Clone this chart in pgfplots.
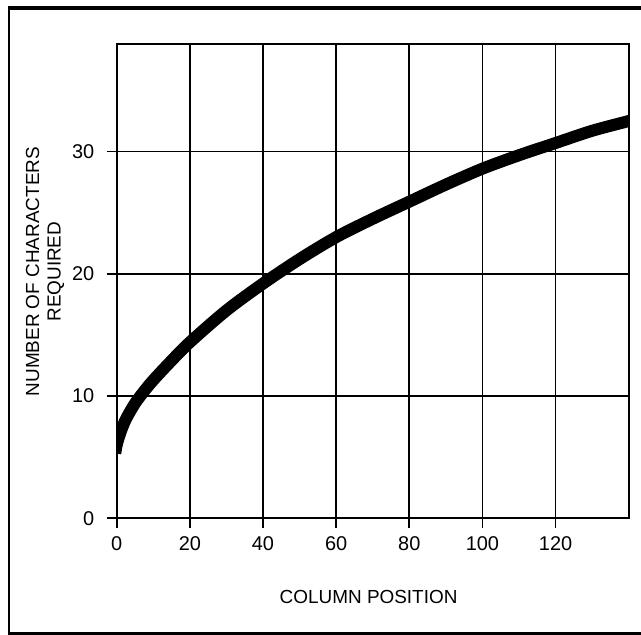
\documentclass[border=0pt]{standalone}
\usepackage{pgfplots}
\pgfplotsset{compat=1.18}
\usepackage{fontspec}
\setmainfont{Liberation Sans}
\pgfplotstableread{
x y
-0.4 5.3
0 6.0
1 7.0
2.5 8.1
5 9.4
7.5 10.4
10 11.3
15 12.9
20 14.4
30 17.0
40 19.2
50 21.2
60 23.0
70 24.5
80 25.9
90 27.3
100 28.6
110 29.7
120 30.7
130 31.7
140 32.5
142 32.7
}\curve
\begin{document}
\begin{tikzpicture}
\path[use as bounding box] (0bp,0bp) rectangle (641bp,635bp);
\draw[line width=3.5bp] (9bp,627bp) -- (641bp,627bp);
\draw[line width=2bp] (9bp,628.5bp) -- (9bp,1bp);
\draw[line width=2bp] (8bp,1.5bp) -- (641bp,1.5bp);
\begin{axis}[
  at={(116.7bp,116.7bp)}, anchor=south west,
  scale only axis, width=512bp, height=474.3bp,
  xmin=0, xmax=140, ymin=0, ymax=38.8,
  xtick={0,20,...,120}, ytick={0,10,20,30},
  grid=major, major grid style={black, line width=1.6bp},
  axis line style={black, line width=2.2bp},
  tick align=outside, major tick length=10bp,
  tick style={black, line width=1.8bp},
  tick pos=left,
  ticklabel style={font=\fontsize{20}{22}\selectfont},
  xticklabel style={yshift=-5bp},
  yticklabel style={xshift=-9bp},
  /pgf/number format/assume math mode=true,
  xlabel={COLUMN POSITION},
  xlabel style={at={(axis description cs:0.492,-0.165)}, anchor=center, font=\fontsize{19}{21.5}\selectfont},
  ylabel={NUMBER OF CHARACTERS\\REQUIRED},
  ylabel style={at={(axis description cs:-0.14,0.52)}, anchor=center, align=center, font=\fontsize{19}{21.5}\selectfont},
]
\addplot[black, line width=12bp, smooth] table {\curve};
\end{axis}
\end{tikzpicture}
\end{document}
